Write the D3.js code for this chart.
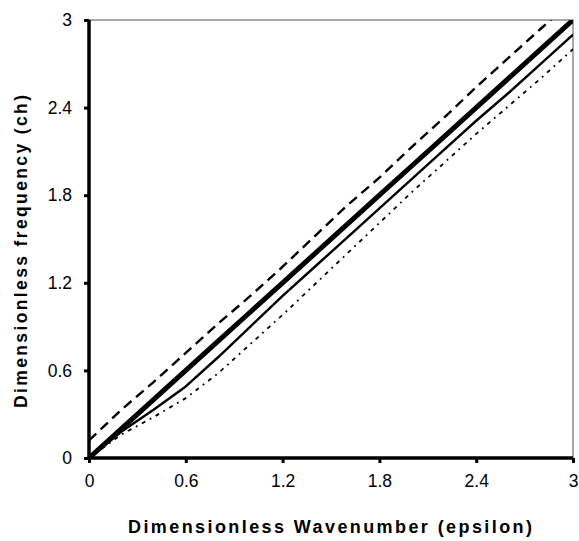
<!DOCTYPE html>
<html>
<head>
<meta charset="utf-8">
<script src="https://cdn.jsdelivr.net/npm/d3@7"></script>
<style>
  body { margin: 0; background: #fff; }
  text { font-family: "Liberation Sans", Arial, sans-serif; }
</style>
</head>
<body>
<svg id="chart" width="579" height="541"></svg>
<script>
// wavenumber samples
var epsilon = [0, 0.2, 0.4, 0.6, 0.8, 1.0, 1.2, 1.4, 1.6, 1.8, 2.0, 2.2, 2.4, 2.6, 2.8, 3.0];
// frequency curves
var freqThick  = [0, 0.2, 0.4, 0.6, 0.8, 1.0, 1.2, 1.4, 1.6, 1.8, 2.0, 2.2, 2.4, 2.6, 2.8, 3.0];
var freqDashed = [0.12, 0.33, 0.52, 0.72, 0.92, 1.11, 1.31, 1.52, 1.73, 1.92, 2.13, 2.33, 2.54, 2.74, 2.94, 3.14];
var freqThin   = [0, 0.18, 0.33, 0.49, 0.69, 0.90, 1.11, 1.31, 1.51, 1.71, 1.91, 2.11, 2.31, 2.50, 2.70, 2.90];
var freqDotted = [0, 0.16, 0.28, 0.41, 0.58, 0.78, 0.98, 1.19, 1.40, 1.61, 1.82, 2.02, 2.22, 2.41, 2.60, 2.80];
var ticks = [0, 0.6, 1.2, 1.8, 2.4, 3];

var
svg = d3.select('#chart'),
margin = {top: 20, right: 6, bottom: 83, left: 89},
width = 579 - margin.left - margin.right,
height = 541 - margin.top - margin.bottom,
g = svg.append('g').attr('transform', 'translate(' + margin.left + ',' + margin.top + ')');

var x = d3.scaleLinear().domain([0, 3]).range([0, width]);
var y = d3.scaleLinear().domain([0, 3]).range([height, 0]);

svg.append('defs').append('clipPath').attr('id', 'plot')
    .append('rect').attr('width', width).attr('height', height);

// thin grey frame on top and right
g.append('path')
    .attr('d', 'M0,0H' + width + 'V' + height)
    .attr('fill', 'none').attr('stroke', '#8c8c8c').attr('stroke-width', 1.5);

var series = [
    {v: freqDashed, w: 2.4, dash: '10,6'},
    {v: freqThin, w: 2.4, dash: null},
    {v: freqDotted, w: 1.8, dash: '4,5,1.8,5'},
    {v: freqThick, w: 5, dash: null}
];

var line = d3.line().x(function (d) { return x(d[0]); }).y(function (d) { return y(d[1]); });

g.append('g').attr('clip-path', 'url(#plot)')
    .selectAll('path').data(series).enter().append('path')
    .attr('d', function (s) { return line(d3.zip(epsilon, s.v)); })
    .attr('fill', 'none')
    .attr('stroke', '#000')
    .attr('stroke-width', function (s) { return s.w; })
    .attr('stroke-linejoin', 'round')
    .attr('stroke-dasharray', function (s) { return s.dash; });

var xAxis = g.append('g').attr('transform', 'translate(0,' + height + ')')
    .call(d3.axisBottom(x).tickValues(ticks).tickSize(5).tickPadding(12).tickFormat(d3.format('')));
var yAxis = g.append('g')
    .call(d3.axisLeft(y).tickValues(ticks).tickSize(5).tickPadding(12).tickFormat(d3.format('')));

[xAxis, yAxis].forEach(function (a) {
    a.select('.domain').attr('stroke-width', 3.5).attr('d', a === xAxis ? 'M-1.5,0H' + width : 'M0,' + (height + 1.5) + 'V0');
    a.selectAll('.tick line').attr('stroke-width', 3);
    a.selectAll('.tick text').attr('font-size', 17.5).attr('font-family', '"Liberation Sans", Arial, sans-serif').attr('fill', '#000');
});

svg.append('text')
    .attr('x', 128).attr('y', 533)
    .attr('font-size', 18).attr('font-weight', 'bold')
    .attr('textLength', 404).attr('lengthAdjust', 'spacing')
    .text('Dimensionless Wavenumber (epsilon)');

svg.append('text')
    .attr('transform', 'translate(27,408) rotate(-90)')
    .attr('font-size', 17.5).attr('font-weight', 'bold')
    .attr('textLength', 313).attr('lengthAdjust', 'spacing')
    .text('Dimensionless frequency (ch)');
</script>
</body>
</html>
